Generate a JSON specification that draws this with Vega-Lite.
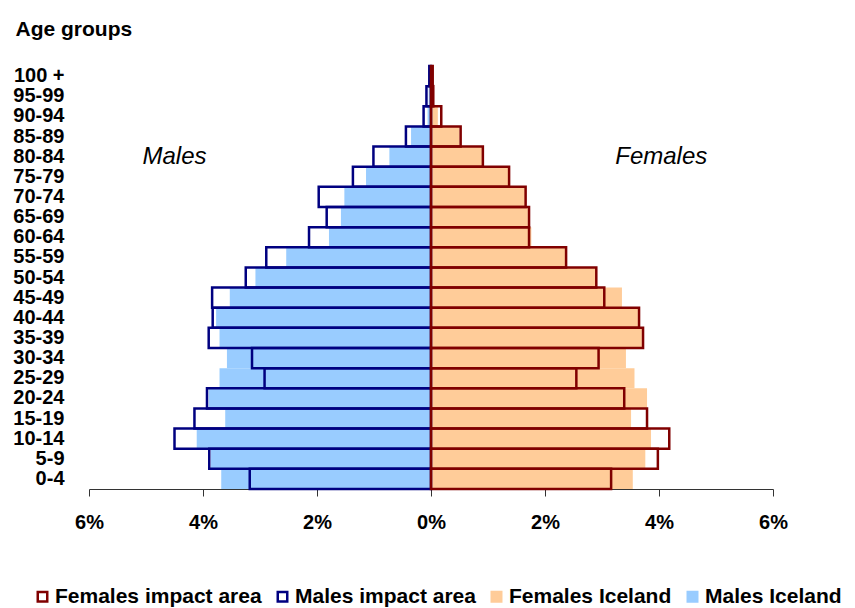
{
  "$schema": "https://vega.github.io/schema/vega-lite/v6.json",
  "autosize": {"type": "none"},
  "padding": {"left": 89, "top": 66, "right": 82, "bottom": 119},
  "width": 684,
  "height": 423,
  "background": "white",
  "config": {
    "view": {"stroke": null},
    "font": "Liberation Sans"
  },
  "datasets": {
    "pop": [
      {"age": "100 +", "series": "Males Iceland", "value": -0.01},
      {"age": "95-99", "series": "Males Iceland", "value": -0.04},
      {"age": "90-94", "series": "Males Iceland", "value": -0.06},
      {"age": "85-89", "series": "Males Iceland", "value": -0.35},
      {"age": "80-84", "series": "Males Iceland", "value": -0.73},
      {"age": "75-79", "series": "Males Iceland", "value": -1.14},
      {"age": "70-74", "series": "Males Iceland", "value": -1.52},
      {"age": "65-69", "series": "Males Iceland", "value": -1.58},
      {"age": "60-64", "series": "Males Iceland", "value": -1.79},
      {"age": "55-59", "series": "Males Iceland", "value": -2.54},
      {"age": "50-54", "series": "Males Iceland", "value": -3.08},
      {"age": "45-49", "series": "Males Iceland", "value": -3.53},
      {"age": "40-44", "series": "Males Iceland", "value": -3.77},
      {"age": "35-39", "series": "Males Iceland", "value": -3.71},
      {"age": "30-34", "series": "Males Iceland", "value": -3.58},
      {"age": "25-29", "series": "Males Iceland", "value": -3.71},
      {"age": "20-24", "series": "Males Iceland", "value": -3.9},
      {"age": "15-19", "series": "Males Iceland", "value": -3.61},
      {"age": "10-14", "series": "Males Iceland", "value": -4.11},
      {"age": "5-9", "series": "Males Iceland", "value": -3.86},
      {"age": "0-4", "series": "Males Iceland", "value": -3.68},
      {"age": "100 +", "series": "Females Iceland", "value": 0.02},
      {"age": "95-99", "series": "Females Iceland", "value": 0.05},
      {"age": "90-94", "series": "Females Iceland", "value": 0.12},
      {"age": "85-89", "series": "Females Iceland", "value": 0.5},
      {"age": "80-84", "series": "Females Iceland", "value": 0.9},
      {"age": "75-79", "series": "Females Iceland", "value": 1.36},
      {"age": "70-74", "series": "Females Iceland", "value": 1.65},
      {"age": "65-69", "series": "Females Iceland", "value": 1.7},
      {"age": "60-64", "series": "Females Iceland", "value": 1.76},
      {"age": "55-59", "series": "Females Iceland", "value": 2.36},
      {"age": "50-54", "series": "Females Iceland", "value": 2.9},
      {"age": "45-49", "series": "Females Iceland", "value": 3.35},
      {"age": "40-44", "series": "Females Iceland", "value": 3.63},
      {"age": "35-39", "series": "Females Iceland", "value": 3.7},
      {"age": "30-34", "series": "Females Iceland", "value": 3.42},
      {"age": "25-29", "series": "Females Iceland", "value": 3.57},
      {"age": "20-24", "series": "Females Iceland", "value": 3.79},
      {"age": "15-19", "series": "Females Iceland", "value": 3.51},
      {"age": "10-14", "series": "Females Iceland", "value": 3.86},
      {"age": "5-9", "series": "Females Iceland", "value": 3.76},
      {"age": "0-4", "series": "Females Iceland", "value": 3.54},
      {"age": "100 +", "series": "Males impact area", "value": -0.03},
      {"age": "95-99", "series": "Males impact area", "value": -0.08},
      {"age": "90-94", "series": "Males impact area", "value": -0.13},
      {"age": "85-89", "series": "Males impact area", "value": -0.44},
      {"age": "80-84", "series": "Males impact area", "value": -1.01},
      {"age": "75-79", "series": "Males impact area", "value": -1.37},
      {"age": "70-74", "series": "Males impact area", "value": -1.97},
      {"age": "65-69", "series": "Males impact area", "value": -1.83},
      {"age": "60-64", "series": "Males impact area", "value": -2.14},
      {"age": "55-59", "series": "Males impact area", "value": -2.89},
      {"age": "50-54", "series": "Males impact area", "value": -3.25},
      {"age": "45-49", "series": "Males impact area", "value": -3.84},
      {"age": "40-44", "series": "Males impact area", "value": -3.83},
      {"age": "35-39", "series": "Males impact area", "value": -3.9},
      {"age": "30-34", "series": "Males impact area", "value": -3.14},
      {"age": "25-29", "series": "Males impact area", "value": -2.92},
      {"age": "20-24", "series": "Males impact area", "value": -3.93},
      {"age": "15-19", "series": "Males impact area", "value": -4.15},
      {"age": "10-14", "series": "Males impact area", "value": -4.5},
      {"age": "5-9", "series": "Males impact area", "value": -3.89},
      {"age": "0-4", "series": "Males impact area", "value": -3.18},
      {"age": "100 +", "series": "Females impact area", "value": 0.03},
      {"age": "95-99", "series": "Females impact area", "value": 0.04},
      {"age": "90-94", "series": "Females impact area", "value": 0.18},
      {"age": "85-89", "series": "Females impact area", "value": 0.52},
      {"age": "80-84", "series": "Females impact area", "value": 0.91},
      {"age": "75-79", "series": "Females impact area", "value": 1.37},
      {"age": "70-74", "series": "Females impact area", "value": 1.66},
      {"age": "65-69", "series": "Females impact area", "value": 1.72},
      {"age": "60-64", "series": "Females impact area", "value": 1.72},
      {"age": "55-59", "series": "Females impact area", "value": 2.37},
      {"age": "50-54", "series": "Females impact area", "value": 2.9},
      {"age": "45-49", "series": "Females impact area", "value": 3.04},
      {"age": "40-44", "series": "Females impact area", "value": 3.65},
      {"age": "35-39", "series": "Females impact area", "value": 3.72},
      {"age": "30-34", "series": "Females impact area", "value": 2.94},
      {"age": "25-29", "series": "Females impact area", "value": 2.55},
      {"age": "20-24", "series": "Females impact area", "value": 3.39},
      {"age": "15-19", "series": "Females impact area", "value": 3.79},
      {"age": "10-14", "series": "Females impact area", "value": 4.18},
      {"age": "5-9", "series": "Females impact area", "value": 3.98},
      {"age": "0-4", "series": "Females impact area", "value": 3.16}
    ],
    "notes": [
      {"label": "Males", "value": -4.5, "age": "80-84"},
      {"label": "Females", "value": 4.04, "age": "80-84"}
    ]
  },
  "encoding": {
    "y": {
      "field": "age",
      "type": "nominal",
      "scale": {
        "domain": ["100 +", "95-99", "90-94", "85-89", "80-84", "75-79", "70-74", "65-69", "60-64", "55-59", "50-54", "45-49", "40-44", "35-39", "30-34", "25-29", "20-24", "15-19", "10-14", "5-9", "0-4"],
        "paddingInner": 0,
        "paddingOuter": 0
      },
      "axis": {
        "title": "Age groups",
        "titleAngle": 0,
        "titleAlign": "left",
        "titleBaseline": "alphabetic",
        "titleX": -74,
        "titleY": -31,
        "titleFont": "Liberation Sans",
        "titleFontSize": 21,
        "titleFontWeight": "bold",
        "titleColor": "black",
        "ticks": false,
        "domain": false,
        "labelPadding": 25,
        "labelFont": "Liberation Sans",
        "labelFontSize": 20,
        "labelFontWeight": "bold",
        "labelColor": "black",
        "labelAlign": "right",
        "labelBaseline": "middle"
      }
    },
    "x": {
      "field": "value",
      "type": "quantitative",
      "scale": {"domain": [-6, 6], "nice": false, "zero": false},
      "axis": {
        "title": null,
        "values": [-6, -4, -2, 0, 2, 4, 6],
        "labelExpr": "abs(datum.value) + '%'",
        "grid": false,
        "domainColor": "#333333",
        "tickColor": "#333333",
        "tickSize": 7,
        "labelPadding": 26,
        "labelBaseline": "middle",
        "labelFont": "Liberation Sans",
        "labelFontSize": 20,
        "labelFontWeight": "bold",
        "labelColor": "black",
        "labelFlush": false
      }
    }
  },
  "layer": [
    {
      "data": {"name": "pop"},
      "transform": [{"filter": {"field": "series", "oneOf": ["Males Iceland", "Females Iceland"]}}],
      "mark": {"type": "bar"},
      "encoding": {
        "fill": {
          "field": "series",
          "type": "nominal",
          "scale": {
            "domain": ["Females impact area", "Males impact area", "Females Iceland", "Males Iceland"],
            "range": ["transparent", "transparent", "#FFCC99", "#99CCFF"]
          },
          "legend": {
            "title": null,
            "orient": "none",
            "legendX": -57,
            "legendY": 520,
            "direction": "horizontal",
            "symbolType": "square",
            "symbolSize": 90,
            "symbolStrokeWidth": 2.5,
            "labelFont": "Liberation Sans",
            "labelFontSize": 21,
            "labelFontWeight": "bold",
            "labelColor": "black",
            "labelLimit": 0,
            "labelOffset": 2,
            "columnPadding": 10
          }
        }
      }
    },
    {
      "data": {"name": "pop"},
      "transform": [{"filter": {"field": "series", "oneOf": ["Males impact area", "Females impact area"]}}],
      "mark": {"type": "bar", "strokeWidth": 2.5, "strokeJoin": "miter"},
      "encoding": {
        "fill": {"field": "series", "type": "nominal"},
        "stroke": {
          "field": "series",
          "type": "nominal",
          "scale": {
            "domain": ["Females impact area", "Males impact area", "Females Iceland", "Males Iceland"],
            "range": ["#800000", "#000080", "#FFCC99", "#99CCFF"]
          },
          "legend": {
            "title": null,
            "orient": "none",
            "legendX": -57,
            "legendY": 520,
            "direction": "horizontal",
            "symbolType": "square",
            "symbolSize": 90,
            "symbolStrokeWidth": 2.5,
            "labelFont": "Liberation Sans",
            "labelFontSize": 21,
            "labelFontWeight": "bold",
            "labelColor": "black",
            "labelLimit": 0,
            "labelOffset": 2,
            "columnPadding": 10
          }
        }
      }
    },
    {
      "data": {"name": "notes"},
      "mark": {"type": "text", "font": "Liberation Sans", "fontSize": 24, "fontStyle": "italic", "color": "black", "baseline": "middle", "align": "center"},
      "encoding": {
        "text": {"field": "label"}
      }
    }
  ]
}
